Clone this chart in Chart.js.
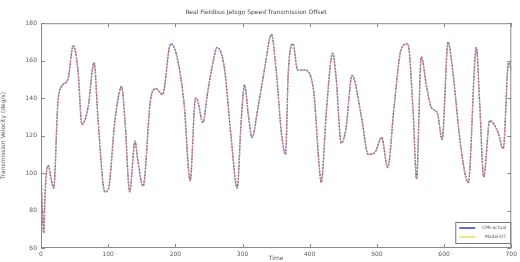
<!DOCTYPE html>
<html>
<head>
<meta charset="utf-8">
<script src="https://cdn.jsdelivr.net/npm/chart.js@4"></script>
<style>
    html, body { margin: 0; padding: 0; background: #fff; }
    #wrap { width: 520px; height: 262px; }
    canvas { filter: blur(0.45px); }
</style>
</head>
<body>
<div id="wrap"><canvas id="speedChart" width="520" height="262"></canvas></div>
<script>
// --- data ---
const timeSteps = [0, 2, 4, 6, 8, 11, 15, 19, 25, 30, 40, 48, 55, 61, 70, 79, 85, 95, 100, 110,
    120, 125, 132, 140, 144, 152, 163, 171, 181, 193, 201, 213, 222, 230, 233, 241, 248, 256, 262, 273,
    283, 292, 298, 303, 309, 314, 323, 333, 343, 350, 358, 364, 368, 375, 382, 392, 405, 415, 417, 425,
    434, 439, 447, 454, 463, 477, 487, 497, 507, 516, 526, 536, 546, 554, 559, 566, 574, 581, 590, 597,
    606, 611, 626, 636, 648, 653, 659, 668, 680, 688, 696, 700];
const actualSpeed = [100, 80, 68, 88, 100, 104, 97, 92, 137, 146, 150, 168, 155, 126, 135, 159, 128, 90, 91, 128,
    146, 128, 90, 117, 107, 93, 139, 145, 142, 169, 164, 137, 96, 140, 139, 127, 143, 159, 167, 156,
    119, 92, 128, 147, 130, 119, 135, 156, 174, 155, 121, 110, 153, 169, 155, 155, 146, 100, 95, 134,
    164, 152, 116, 124, 152, 130, 110, 111, 119, 103, 137, 166, 169, 132, 97, 162, 146, 135, 132, 118,
    170, 160, 111, 95, 167, 137, 98, 128, 122, 113, 159, 155];
const modelSpeed = [100, 80, 68, 88, 100, 104, 97, 92, 137, 146, 150, 168, 155, 126, 135, 159, 128, 90, 91, 128,
    146, 128, 90, 117, 107, 93, 139, 145, 142, 169, 164, 137, 96, 140, 139, 127, 143, 159, 167, 156,
    119, 92, 128, 147, 130, 119, 135, 156, 174, 155, 121, 110, 153, 169, 155, 155, 146, 100, 95, 134,
    164, 152, 116, 124, 152, 130, 110, 111, 119, 103, 137, 166, 169, 132, 97, 162, 146, 135, 132, 118,
    170, 160, 111, 95, 167, 137, 98, 128, 122, 113, 159, 155];
const seriesNames = ['CPR-actual', 'Model-DT'];
const legendColors = ['#3b3bc8', '#e8e060'];

const toPoints = (ys) => timeSteps.map((t, i) => ({ x: t, y: ys[i] }));

const axisGrey = '#8a8a8a';
const textGrey = '#5a5a5a';
const smallFont = { size: 6, family: '"DejaVu Sans", sans-serif' };

// MATLAB-style box with inward ticks + legend box in lower right
const framePlugin = {
    id: 'frame',
    afterDraw(chart) {
        const { ctx, chartArea: a, scales } = chart;
        ctx.save();
        ctx.strokeStyle = axisGrey;
        ctx.lineWidth = 1;
        ctx.strokeRect(a.left + 0.5, a.top + 0.5, a.right - a.left - 1, a.bottom - a.top - 1);
        ctx.beginPath();
        scales.x.ticks.forEach(t => {
            const px = Math.round(scales.x.getPixelForValue(t.value)) + 0.5;
            ctx.moveTo(px, a.bottom); ctx.lineTo(px, a.bottom - 4);
            ctx.moveTo(px, a.top); ctx.lineTo(px, a.top + 4);
        });
        scales.y.ticks.forEach(t => {
            const py = Math.round(scales.y.getPixelForValue(t.value)) + 0.5;
            ctx.moveTo(a.left, py); ctx.lineTo(a.left + 4, py);
            ctx.moveTo(a.right, py); ctx.lineTo(a.right - 4, py);
        });
        ctx.stroke();

        // legend
        const bw = 55, bh = 21;
        const bx = a.right - bw - 1, by = a.bottom - bh - 5;
        ctx.fillStyle = '#fff';
        ctx.fillRect(bx, by, bw, bh);
        ctx.strokeStyle = '#777';
        ctx.strokeRect(bx + 0.5, by + 0.5, bw, bh);
        ctx.font = '4.5px "DejaVu Sans", sans-serif';
        ctx.textBaseline = 'middle';
        seriesNames.forEach((name, i) => {
            const ly = by + 6 + i * 9;
            ctx.strokeStyle = legendColors[i];
            ctx.lineWidth = 1.5;
            ctx.beginPath();
            ctx.moveTo(bx + 4, ly); ctx.lineTo(bx + 20, ly);
            ctx.stroke();
            ctx.fillStyle = textGrey;
            ctx.textAlign = 'right';
            ctx.fillText(name, bx + bw - 4, ly);
        });
        ctx.restore();
    }
};

new Chart(document.getElementById('speedChart'), {
    type: 'line',
    data: {
        datasets: [{
            label: seriesNames[1],
            data: toPoints(modelSpeed),
            borderColor: '#e29090',
            borderWidth: 1,
            borderDash: [3, 2],
            pointRadius: 0,
            cubicInterpolationMode: 'monotone'
        }, {
            label: seriesNames[0],
            data: toPoints(actualSpeed),
            borderColor: '#75759a',
            borderWidth: 1.6,
            borderDash: [1, 2.2],
            borderCapStyle: 'round',
            pointRadius: 0,
            cubicInterpolationMode: 'monotone'
        }]
    },
    options: {
        responsive: false,
        animation: false,
        layout: { padding: { left: 0, right: 8, top: 0, bottom: 0 } },
        plugins: {
            legend: { display: false },
            tooltip: { enabled: false },
            title: {
                display: true,
                text: 'Real Fieldbus Jetsgo Speed Transmission Offset',
                color: '#444',
                font: { size: 6, weight: 'normal', family: '"DejaVu Sans", sans-serif' },
                padding: { top: 9, bottom: 7 }
            }
        },
        scales: {
            x: {
                type: 'linear',
                min: 0,
                max: 700,
                grid: { display: false, drawTicks: false },
                border: { display: false },
                ticks: { stepSize: 100, color: textGrey, padding: 3, font: smallFont, maxRotation: 0 },
                title: { display: true, text: 'Time', color: textGrey, padding: 0, font: smallFont },
                afterFit: (s) => { s.height = 14; }
            },
            y: {
                min: 60,
                max: 180,
                grid: { display: false, drawTicks: false },
                border: { display: false },
                ticks: { stepSize: 20, color: textGrey, padding: 4, font: smallFont },
                title: { display: true, text: 'Transmission Velocity (deg/s)', color: textGrey, padding: { top: 0, bottom: 6 }, font: smallFont },
                afterFit: (s) => { s.width = 41; }
            }
        }
    },
    plugins: [framePlugin]
});
</script>
</body>
</html>
